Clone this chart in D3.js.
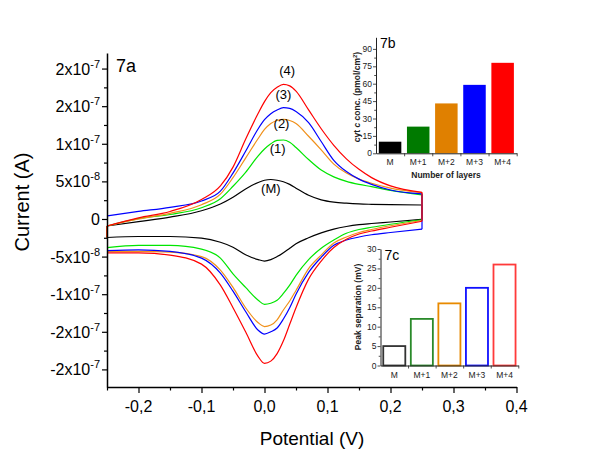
<!DOCTYPE html>
<html><head><meta charset="utf-8">
<script src="https://cdn.jsdelivr.net/npm/d3@7"></script>
<style>
body{margin:0;background:#fff;}
svg{display:block;font-family:Arial,"Liberation Sans",sans-serif;}
</style></head>
<body><svg id="c" width="600" height="463"></svg>
<script>
// ---------- data ----------
const potential = [-0.25,-0.2,-0.15,-0.1,-0.07,-0.05,-0.03,-0.01,0,0.01,0.02,0.03,0.04,0.05,0.07,0.09,0.11,0.13,0.15,0.17,0.2,0.25];
const seriesNames = ["M","(1)","(2)","(3)","(4)"];
const seriesColors = ["#000000","#00e600","#f0901a","#0000ff","#ff0000"];
// anodic (forward) branch, units 1e-8 A
const anodicM  = [-0.93,-0.35,0.25,1.1,2.0,2.9,4.0,4.85,5.15,5.25,5.15,4.95,4.6,4.1,3.15,2.55,2.25,2.1,2.0,1.95,1.9,1.86];
const anodic1  = [-0.93,0.05,0.6,1.5,2.7,4.35,6.2,8.4,9.3,10.0,10.45,10.5,10.2,9.5,7.9,6.5,5.6,5.0,4.6,4.3,3.8,3.2];
const anodic2  = [-0.93,0.0,0.75,1.9,3.3,5.5,8.1,10.7,11.9,12.7,13.1,13.25,13.1,12.7,11.0,9.2,7.3,6.1,5.3,4.75,4.1,3.5];
const anodic3  = [0.4,1.0,1.55,2.4,3.7,6.1,9.0,12.0,13.2,14.0,14.5,14.8,14.7,14.3,12.8,10.3,7.8,6.3,5.3,4.6,3.85,3.33];
const anodic4  = [-0.93,0.15,1.0,2.6,4.4,6.9,10.6,14.05,15.6,16.8,17.5,17.9,17.7,17.0,14.5,12.0,9.8,8.0,6.6,5.5,4.4,3.55];
// cathodic (reverse) branch, units 1e-8 A
const cathodicM = [-2.46,-2.33,-2.33,-2.55,-3.1,-3.75,-4.75,-5.4,-5.59,-5.4,-5.0,-4.5,-3.9,-3.3,-2.5,-1.85,-1.35,-1.0,-0.75,-0.6,-0.4,-0.05];
const cathodic1 = [-3.8,-3.5,-3.5,-4.0,-5.2,-7.3,-9.1,-10.8,-11.35,-11.2,-10.8,-9.9,-8.8,-7.5,-5.4,-3.9,-2.8,-1.9,-1.4,-1.1,-0.7,-0.1];
const cathodic2 = [-4.3,-4.3,-4.4,-5.0,-6.8,-9.1,-11.8,-13.8,-14.3,-14.1,-13.4,-12.1,-10.9,-9.5,-6.6,-4.8,-3.2,-2.4,-1.8,-1.4,-0.9,-0.2];
const cathodic3 = [-4.2,-4.1,-4.3,-5.2,-7.2,-9.6,-12.3,-14.8,-15.3,-15.0,-14.5,-13.3,-11.8,-10.0,-7.1,-5.1,-3.5,-2.8,-2.4,-2.1,-1.8,-1.35];
const cathodic4 = [-4.5,-4.5,-4.8,-6.0,-8.8,-11.8,-15.0,-18.3,-19.2,-18.9,-17.9,-16.2,-14.0,-11.8,-8.0,-5.6,-3.8,-2.7,-2.0,-1.6,-1.1,-0.3];
const startJump = [true,true,true,false,true];
// curve label anchors (potential, current 1e-8 A)
const curveLabels = ["(M)","(1)","(2)","(3)","(4)"];
const curveLabelX = [0.01,0.021,0.027,0.03,0.036];
const curveLabelY = [3.5,8.8,12.1,15.9,19.1];

const xTicks = [-0.2,-0.1,0.0,0.1,0.2,0.3,0.4];
const xTickLabels = ["-0,2","-0,1","0,0","0,1","0,2","0,3","0,4"];
const xMinor = [-0.25,-0.15,-0.05,0.05,0.15,0.25,0.35];
const yTicks = [-2e-7,-1.5e-7,-1e-7,-5e-8,0,5e-8,1e-7,1.5e-7,2e-7];
const yTickMant = ["-2x10","-2x10","-1x10","-5x10","0","5x10","1x10","2x10","2x10"];
const yTickExp  = ["-7","-7","-7","-8","","-8","-7","-7","-7"];
const yMinor = [-1.75e-7,-1.25e-7,-7.5e-8,-2.5e-8,2.5e-8,7.5e-8,1.25e-7,1.75e-7];

// insets
const layers = ["M","M+1","M+2","M+3","M+4"];
const cytConc = [10,23,43,59,78];
const peakSep = [5,12,16,20,26];
const barFill = ["#000000","#007a00","#e08000","#0000ff","#ff0000"];
const barStroke = ["#333333","#2a8a2a","#e88a00","#1010ff","#ff3a3a"];
const bTicks = [0,15,30,45,60,75,90];
const cTicks = [0,5,10,15,20,25,30];

// ---------- drawing ----------
const svg = d3.select("#c");
const x = d3.scaleLinear().domain([-0.25,0.4]).range([107,516.5]);
const y = d3.scaleLinear().domain([-2.234e-7,2.207e-7]).range([387,53]);

const anodic = [anodicM,anodic1,anodic2,anodic3,anodic4];
const cathodic = [cathodicM,cathodic1,cathodic2,cathodic3,cathodic4];
const lineC = d3.line().x(d=>x(d[0])).y(d=>y(d[1]*1e-8)).curve(d3.curveMonotoneX);
const lineL = d3.line().x(d=>x(d[0])).y(d=>y(d[1]*1e-8));
const curves = svg.append("g").attr("fill","none").attr("stroke-width",1.2);
seriesNames.forEach((n,i)=>{
  const up = potential.map((p,j)=>[p,anodic[i][j]]);
  const dn = potential.map((p,j)=>[p,cathodic[i][j]]);
  const col = seriesColors[i];
  curves.append("path").attr("d",lineC(up)).attr("stroke",col);
  curves.append("path").attr("d",lineC(dn)).attr("stroke",col);
  const last = potential.length-1;
  curves.append("path").attr("d",lineL([up[last],dn[last]])).attr("stroke",col);
  if(startJump[i]) curves.append("path").attr("d",lineL([[potential[0],cathodicM[0]],up[0]])).attr("stroke",col);
});

// curve labels
curveLabels.forEach((t,i)=>{
  svg.append("text").attr("x",x(curveLabelX[i])).attr("y",y(curveLabelY[i]*1e-8))
    .attr("text-anchor","middle").attr("font-size",13).text(t);
});

// axes
svg.append("g").attr("transform","translate(0,387)")
  .call(d3.axisBottom(x).tickValues(xTicks).tickSize(6).tickSizeOuter(0).tickFormat(""));
svg.append("g").attr("transform","translate(0,387)")
  .call(d3.axisBottom(x).tickValues(xMinor).tickSize(3.5).tickSizeOuter(0).tickFormat(""))
  .select(".domain").remove();
svg.append("g").attr("transform","translate(107,0)")
  .call(d3.axisLeft(y).tickValues(yTicks).tickSize(5).tickSizeOuter(0).tickFormat(""));
svg.append("g").attr("transform","translate(107,0)")
  .call(d3.axisLeft(y).tickValues(yMinor).tickSize(3).tickSizeOuter(0).tickFormat(""))
  .select(".domain").remove();
svg.selectAll(".domain").attr("stroke-width",1.5);
svg.selectAll(".tick line").attr("stroke-width",1.2);

xTicks.forEach((v,i)=>{
  svg.append("text").attr("x",x(v)).attr("y",412).attr("text-anchor","middle")
    .attr("font-size",16).text(xTickLabels[i]);
});
yTicks.forEach((v,i)=>{
  const t = svg.append("text").attr("x",100).attr("y",y(v)+6).attr("text-anchor","end").attr("font-size",16);
  t.append("tspan").text(yTickMant[i]);
  if(yTickExp[i]) t.append("tspan").attr("font-size",11).attr("dy",-7).text(yTickExp[i]);
});

svg.append("text").attr("transform","translate(29,202) rotate(-90)").attr("text-anchor","middle")
  .attr("font-size",20).text("Current (A)");
svg.append("text").attr("x",312).attr("y",445).attr("text-anchor","middle")
  .attr("font-size",19).text("Potential (V)");
svg.append("text").attr("x",116).attr("y",72).attr("font-size",18).text("7a");

// ---------- insets ----------
function inset(o){
  const xb = d3.scaleBand().domain(layers).range([o.x0,o.x1]).paddingInner(0.2).paddingOuter(0.1);
  const yb = d3.scaleLinear().domain([0,o.max]).range([o.y0,o.y1]);
  const g = svg.append("g");
  g.selectAll("rect").data(o.values).join("rect")
    .attr("x",(d,i)=>xb(layers[i])).attr("width",xb.bandwidth())
    .attr("y",d=>yb(d)).attr("height",d=>yb(0)-yb(d))
    .attr("fill",(d,i)=>o.filled?barFill[i]:"#fff")
    .attr("stroke",(d,i)=>o.filled?"none":barStroke[i]).attr("stroke-width",o.filled?0:1.8);
  const tickScale = d3.scaleLinear().domain([0,5]).range([o.x0,o.x1]);
  g.append("g").attr("transform",`translate(0,${o.y0})`)
    .call(d3.axisBottom(tickScale).tickValues([1,2,3,4,5]).tickSize(3).tickSizeOuter(0).tickFormat(""));
  g.append("g").attr("transform",`translate(${o.x0},0)`)
    .call(d3.axisLeft(yb).tickValues(o.ticks).tickSize(3).tickSizeOuter(0).tickFormat(""));
  g.append("g").attr("transform",`translate(${o.x0},0)`)
    .call(d3.axisLeft(yb).tickValues(o.ticks.slice(0,-1).map(v=>v+o.step/2)).tickSize(1.8).tickSizeOuter(0).tickFormat(""))
    .select(".domain").remove();
  g.selectAll(".domain").attr("stroke","#222").attr("stroke-width",1);
  g.selectAll(".tick line").attr("stroke","#222").attr("stroke-width",0.8);
  o.ticks.forEach(v=>{
    g.append("text").attr("x",o.x0-4).attr("y",yb(v)+3).attr("text-anchor","end")
      .attr("font-size",8.5).attr("fill","#222").text(v);
  });
  layers.forEach(l=>{
    g.append("text").attr("x",xb(l)+xb.bandwidth()/2).attr("y",o.y0+12).attr("text-anchor","middle")
      .attr("font-size",8.5).attr("fill","#222").text(l);
  });
  g.append("text").attr("x",o.x0+4).attr("y",o.tagY).attr("font-size",14).text(o.tag);
  return g;
}
const gb = inset({x0:376,x1:516.7,y0:153.3,y1:37.3,max:100,values:cytConc,filled:true,ticks:bTicks,step:15,tag:"7b",tagY:47.5});
gb.append("text").attr("x",446).attr("y",178).attr("text-anchor","middle")
  .attr("font-size",8.5).attr("font-weight","bold").attr("fill","#222").text("Number of layers");
const lb = gb.append("text").attr("transform","translate(360,97) rotate(-90)").attr("text-anchor","middle")
  .attr("font-size",8.5).attr("font-weight","bold").attr("fill","#222");
lb.append("tspan").text("cyt ");
lb.append("tspan").attr("font-style","italic").text("c");
lb.append("tspan").text(" conc. (pmol/cm");
lb.append("tspan").attr("font-size",6).attr("dy",-3).text("2");
lb.append("tspan").attr("dy",3).text(")");

const gc = inset({x0:380.5,x1:518.3,y0:365.5,y1:249,max:30,values:peakSep,filled:false,ticks:cTicks,step:5,tag:"7c",tagY:259.5});
gc.append("text").attr("transform","translate(361,307) rotate(-90)").attr("text-anchor","middle")
  .attr("font-size",8.5).attr("font-weight","bold").attr("fill","#222").text("Peak separation (mV)");
</script>
</body></html>
